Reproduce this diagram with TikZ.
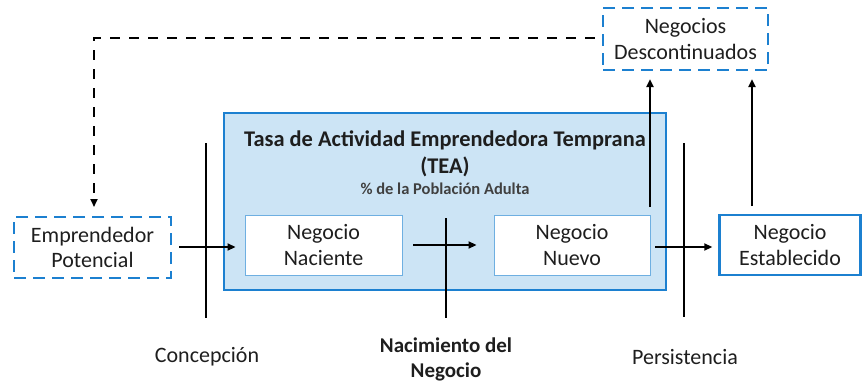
\documentclass[tikz,border=0pt]{standalone}
\usepackage{fontspec}
\setmainfont{Carlito}
\usetikzlibrary{arrows.meta,calc}
\definecolor{bblue}{RGB}{28,128,208}
\definecolor{lblue}{RGB}{204,228,245}
\definecolor{iblue}{RGB}{110,175,225}
\definecolor{txt}{RGB}{30,30,30}
\begin{document}
\begin{tikzpicture}[x=1pt,y=-1pt,
  every node/.style={text=txt, inner sep=0pt, align=center},
  boxtxt/.style={font=\fontsize{22}{25.5}\selectfont},
  dbox/.style={draw=bblue, line width=2.2pt, dash pattern=on 12pt off 7pt, boxtxt},
  sbox/.style={draw=bblue, line width=2.4pt, fill=white, boxtxt},
  ibox/.style={draw=iblue, line width=0.9pt, fill=white, boxtxt},
  conn/.style={line width=1.8pt, -{Triangle[length=8pt,width=7pt]}},
  bar/.style={line width=2.4pt},
  lab/.style={font=\fontsize{22}{25}\selectfont}
]
\useasboundingbox (0,0) rectangle (865,383);
% TEA box
\node[draw=bblue, line width=2.4pt, fill=lblue, minimum width=442pt, minimum height=177pt] (tea) at (445,201.5) {};
\node[font=\bfseries\fontsize{22.4}{27}\selectfont] (title) at (445,154) {Tasa de Actividad Emprendedora Temprana\\(TEA)};
\node[font=\bfseries\fontsize{16.5}{18}\selectfont, text=txt!85] (sub) at (445,189) {\% de la Población Adulta};
% boxes
\node[ibox, minimum width=157pt, minimum height=60pt] (nac) at (323.5,245) {Negocio\\Naciente};
\node[ibox, minimum width=156pt, minimum height=60pt] (nue) at (572,245) {Negocio\\Nuevo};
\node[dbox, minimum width=157pt, minimum height=61pt] (emp) at (92.5,247.5) {Emprendedor\\Potencial};
\node[dbox, minimum width=165pt, minimum height=62pt] (desc) at (685.5,39) {Negocios\\Descontinuados};
\node[sbox, minimum width=141pt, minimum height=60pt] (est) at (790,245) {Negocio\\Establecido};
% vertical bars
\coordinate (c1) at (206,143); \coordinate (c2) at (206,318);
\coordinate (n1) at (446,218); \coordinate (n2) at (446,318);
\coordinate (p1) at (684,143); \coordinate (p2) at (684,317);
\draw[bar] (c1) -- (c2);
\draw[bar] (n1) -- (n2);
\draw[bar] (p1) -- (p2);
% connectors
\draw[conn, shorten <=7pt, shorten >=9pt] (emp.east |- 0,247) -- (nac.west |- 0,247);
\draw[conn, shorten <=11pt, shorten >=17pt] (nac.east) -- (nue.west);
\draw[conn, shorten <=5pt, shorten >=6pt] (nue.east |- 0,247) -- (est.west |- 0,247);
\coordinate (u1) at (650,207);
\coordinate (u2) at (752,206);
\draw[conn, line width=2pt, shorten >=8pt] (u1) -- (u1 |- desc.south);
\draw[conn, line width=2pt, shorten >=8pt] (u2) -- (u2 |- desc.south);
\coordinate (dc) at (94,38);
\draw[line width=1.8pt, dash pattern=on 10pt off 9pt, shorten <=7pt, -{Triangle[length=8pt,width=7pt]}] (desc.west |- dc) -- (dc) -- (dc |- 0,207);
% labels
\node[lab] (lc) at (207,357) {Concepción};
\node[lab, font=\bfseries\fontsize{21}{25}\selectfont] (ln) at (446,359.5) {Nacimiento del\\Negocio};
\node[lab] (lp) at (685,357) {Persistencia};
\end{tikzpicture}
\end{document}
